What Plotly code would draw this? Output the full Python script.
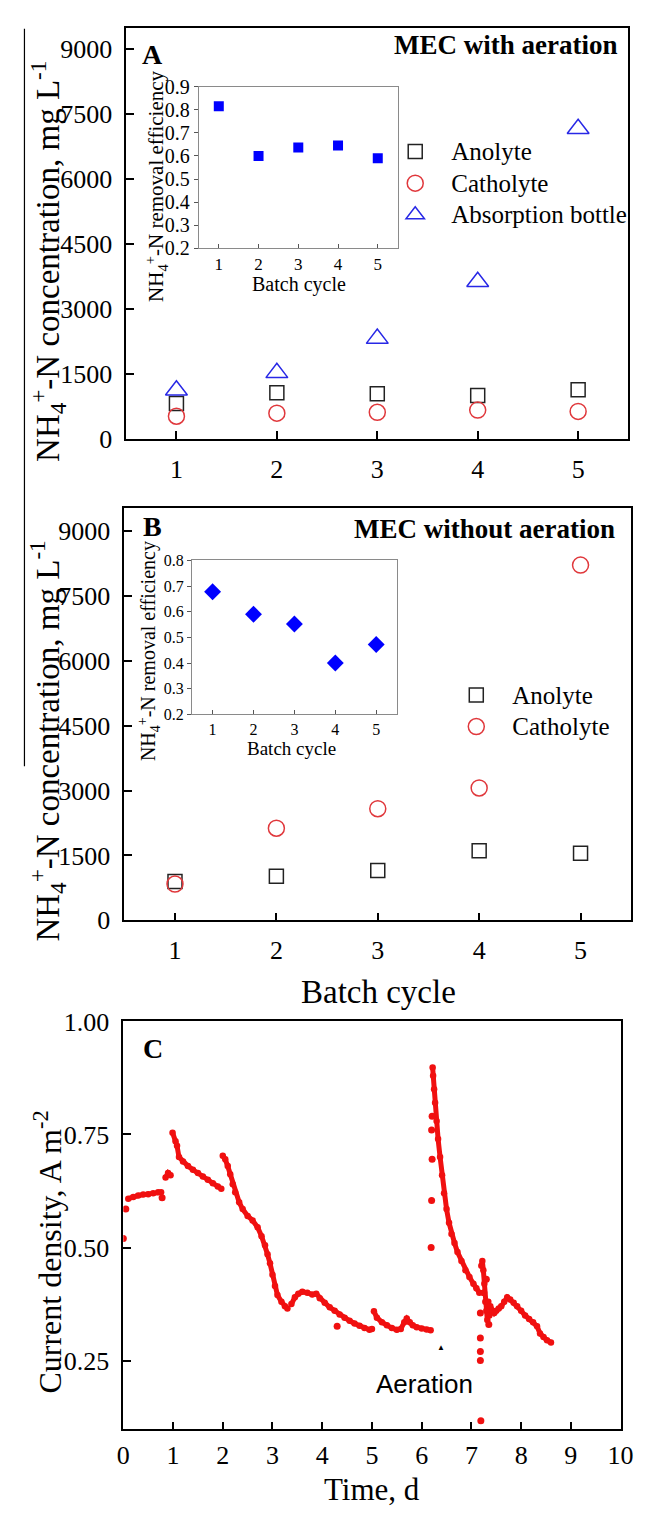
import plotly.graph_objects as go

W, H = 652, 1519
def px(x): return x / W
def py(y): return 1 - y / H

# ---------------- data ----------------
cycles = [1, 2, 3, 4, 5]
# Panel A: MEC with aeration (mg/L)
a_anolyte = [810, 1060, 1040, 1000, 1130]
a_catholyte = [520, 590, 610, 660, 630]
a_absorption = [1120, 1520, 2310, 3620, 7150]
a_eff = [0.815, 0.60, 0.637, 0.645, 0.59]
# Panel B: MEC without aeration (mg/L)
b_anolyte = [900, 1020, 1150, 1610, 1550]
b_catholyte = [840, 2130, 2580, 3060, 8210]
b_eff = [0.678, 0.59, 0.552, 0.40, 0.472]

# Panel C: current density (A m-2) vs time (d), read as continuous runs of dots
c_t1 = [0.10, 0.20, 0.30, 0.40, 0.50, 0.60, 0.70, 0.76]
c_v1 = [0.608, 0.612, 0.615, 0.617, 0.618, 0.620, 0.622, 0.622]
c_t2 = [0.85, 0.90, 0.95]
c_v2 = [0.655, 0.665, 0.660]
c_t3 = [0.99, 1.05, 1.08, 1.12, 1.20, 1.30, 1.40, 1.50, 1.60, 1.70, 1.80, 1.90, 1.97]
c_v3 = [0.754, 0.735, 0.725, 0.700, 0.690, 0.680, 0.672, 0.665, 0.657, 0.650, 0.642, 0.635, 0.630]
c_t4 = [2.00, 2.05, 2.10, 2.15, 2.20, 2.25, 2.33, 2.40, 2.50, 2.60, 2.70, 2.78, 2.85, 2.90,
        2.95, 3.00, 3.05, 3.10, 3.18, 3.25, 3.30]
c_v4 = [0.703, 0.695, 0.680, 0.662, 0.640, 0.622, 0.600, 0.585, 0.570, 0.560, 0.545, 0.525,
        0.505, 0.485, 0.465, 0.440, 0.415, 0.395, 0.380, 0.370, 0.365]
c_t5 = [3.38, 3.45, 3.52, 3.60, 3.70, 3.80, 3.88, 3.95, 4.05, 4.15, 4.25, 4.35, 4.45, 4.55,
        4.65, 4.75, 4.85, 4.95, 5.00]
c_v5 = [0.375, 0.390, 0.398, 0.402, 0.400, 0.396, 0.398, 0.388, 0.378, 0.368, 0.360, 0.352,
        0.345, 0.338, 0.332, 0.327, 0.322, 0.318, 0.320]
c_t6 = [5.04, 5.10, 5.20, 5.30, 5.40, 5.50, 5.58, 5.65, 5.70, 5.76, 5.82, 5.90, 6.00, 6.10, 6.18]
c_v6 = [0.359, 0.345, 0.335, 0.328, 0.322, 0.318, 0.320, 0.335, 0.343, 0.335, 0.328, 0.324,
        0.321, 0.319, 0.317]
c_t7 = [6.22, 6.23, 6.25, 6.27, 6.30, 6.33, 6.37, 6.41, 6.45, 6.50, 6.55, 6.60, 6.66, 6.72,
        6.80, 6.88, 6.96, 7.04, 7.10, 7.16]
c_v7 = [0.898, 0.880, 0.850, 0.820, 0.780, 0.740, 0.700, 0.660, 0.620, 0.585, 0.555, 0.530,
        0.510, 0.490, 0.470, 0.450, 0.435, 0.420, 0.410, 0.400]
c_t8 = [7.20, 7.22, 7.24, 7.26, 7.28, 7.30, 7.32, 7.34, 7.36, 7.38, 7.42, 7.46, 7.50, 7.55,
        7.60, 7.66, 7.72, 7.78, 7.85, 7.92, 8.00, 8.08, 8.16, 8.24, 8.32, 8.38, 8.45, 8.52, 8.60]
c_v8 = [0.460, 0.470, 0.450, 0.420, 0.380, 0.360, 0.340, 0.380, 0.350, 0.370, 0.360, 0.355,
        0.360, 0.365, 0.370, 0.380, 0.390, 0.385, 0.378, 0.370, 0.360, 0.350, 0.342, 0.335,
        0.326, 0.310, 0.302, 0.295, 0.290]
c_t_iso = [0.00, 0.05, 0.78, 4.30, 6.19, 6.20, 6.21, 6.20, 6.21, 7.18, 7.18, 7.18, 7.18, 7.19,
           7.25, 7.30, 7.35]
c_v_iso = [0.520, 0.585, 0.610, 0.326, 0.500, 0.604, 0.695, 0.760, 0.790, 0.355, 0.300, 0.270,
           0.250, 0.117, 0.400, 0.430, 0.330]

c_runs = [(c_t1, c_v1), (c_t2, c_v2), (c_t3, c_v3), (c_t4, c_v4), (c_t5, c_v5),
          (c_t6, c_v6), (c_t7, c_v7), (c_t8, c_v8)]

# ---------------- styles ----------------
SERIF = "Liberation Serif"
SANS = "Liberation Sans"
BLACK_SQ = "#222222"
RED = "#E0383C"
BLUE = "#2828E6"

def lg(name):
    return f'<span style="font-size:25px">{name}</span>'

fig = go.Figure()

# Panel A
fig.add_trace(go.Scatter(x=cycles, y=a_anolyte, mode="markers", name=lg("Anolyte"),
                         marker=dict(symbol="square-open", size=14, color=BLACK_SQ, line=dict(width=1.5)),
                         xaxis="x", yaxis="y", legend="legend"))
fig.add_trace(go.Scatter(x=cycles, y=a_catholyte, mode="markers", name=lg("Catholyte"),
                         marker=dict(symbol="circle-open", size=16, color=RED, line=dict(width=1.5)),
                         xaxis="x", yaxis="y", legend="legend"))
fig.add_trace(go.Scatter(x=cycles, y=a_absorption, mode="markers", name=lg("Absorption bottle"),
                         marker=dict(symbol="triangle-up-open", size=19, color=BLUE, line=dict(width=1.5)),
                         xaxis="x", yaxis="y", legend="legend"))
# Inset A
fig.add_trace(go.Scatter(x=cycles, y=a_eff, mode="markers", showlegend=False,
                         marker=dict(symbol="square", size=10, color="#0000FF"),
                         xaxis="x2", yaxis="y2"))
# Panel B
fig.add_trace(go.Scatter(x=cycles, y=b_anolyte, mode="markers", name=lg("Anolyte"),
                         marker=dict(symbol="square-open", size=14, color=BLACK_SQ, line=dict(width=1.5)),
                         xaxis="x3", yaxis="y3", legend="legend2"))
fig.add_trace(go.Scatter(x=cycles, y=b_catholyte, mode="markers", name=lg("Catholyte"),
                         marker=dict(symbol="circle-open", size=16, color=RED, line=dict(width=1.5)),
                         xaxis="x3", yaxis="y3", legend="legend2"))
# Inset B
fig.add_trace(go.Scatter(x=cycles, y=b_eff, mode="markers", showlegend=False,
                         marker=dict(symbol="diamond", size=13, color="#0000FF"),
                         xaxis="x4", yaxis="y4"))
# Panel C: dense runs drawn as thick dotted lines + dots
line_t, line_v = [], []
for t, v in c_runs:
    line_t += t + [None]
    line_v += v + [None]
fig.add_trace(go.Scatter(x=line_t, y=line_v, mode="lines+markers", showlegend=False,
                         line=dict(color="#F01010", width=5),
                         marker=dict(symbol="circle", size=6.5, color="#F01010"),
                         connectgaps=False, xaxis="x5", yaxis="y5"))
fig.add_trace(go.Scatter(x=c_t_iso, y=c_v_iso, mode="markers", showlegend=False,
                         marker=dict(symbol="circle", size=7, color="#F01010"),
                         xaxis="x5", yaxis="y5"))

main_ax = dict(showline=True, linecolor="black", linewidth=1.6, mirror=True,
               ticks="inside", ticklen=8, tickwidth=1.5, tickcolor="black",
               showgrid=False, zeroline=False,
               tickfont=dict(family=SERIF, size=26, color="black"))
inset_ax = dict(showline=True, linecolor="#8a8a8a", linewidth=1.2, mirror=True,
                ticks="outside", ticklen=4, tickwidth=1, tickcolor="#555555",
                showgrid=False, zeroline=False,
                tickfont=dict(family=SERIF, size=20, color="black"))

fig.update_layout(
    width=W, height=H,
    margin=dict(l=0, r=0, t=0, b=0),
    paper_bgcolor="white", plot_bgcolor="rgba(0,0,0,0)",
    font=dict(family=SERIF, color="black"),
    # Panel A
    xaxis=dict(main_ax, domain=[px(123), px(641)], range=[0.5, 5.5], tickvals=cycles,
               anchor="y", ticklabelstandoff=6),
    yaxis=dict(main_ax, domain=[py(433), py(14)], range=[0, 9480],
               tickvals=[0, 1500, 3000, 4500, 6000, 7500, 9000], anchor="x",
               ticklabelstandoff=7),
    # Inset A
    xaxis2=dict(inset_ax, domain=[px(198), px(403)], range=[0.5, 5.5], tickvals=cycles,
                anchor="y2", ticks="inside",
                tickfont=dict(family=SERIF, size=17, color="black")),
    yaxis2=dict(inset_ax, domain=[py(239), py(74)], range=[0.2, 0.9],
                tickvals=[0.2, 0.3, 0.4, 0.5, 0.6, 0.7, 0.8, 0.9], anchor="x2"),
    # Panel B
    xaxis3=dict(main_ax, domain=[px(121), px(644)], range=[0.5, 5.5], tickvals=cycles,
                anchor="y3", ticklabelstandoff=6),
    yaxis3=dict(main_ax, domain=[py(924), py(504)], range=[0, 9520],
                tickvals=[0, 1500, 3000, 4500, 6000, 7500, 9000], anchor="x3",
                ticklabelstandoff=7),
    # Inset B
    xaxis4=dict(inset_ax, domain=[px(191), px(402)], range=[0.5, 5.5], tickvals=cycles,
                anchor="y4", ticks="inside",
                tickfont=dict(family=SERIF, size=16, color="black")),
    yaxis4=dict(inset_ax, domain=[py(714), py(557)], range=[0.2, 0.8],
                tickvals=[0.2, 0.3, 0.4, 0.5, 0.6, 0.7, 0.8], anchor="x4",
                tickfont=dict(family=SERIF, size=16, color="black")),
    # Panel C
    xaxis5=dict(main_ax, domain=[px(120), px(633)], range=[0, 10],
                tickvals=[0, 1, 2, 3, 4, 5, 6, 7, 8, 9, 10], anchor="y5", ticklabelstandoff=2),
    yaxis5=dict(main_ax, domain=[py(1443), py(1027)], range=[0.0978, 1.0],
                tickvals=[0.25, 0.50, 0.75, 1.00], tickformat=".2f", anchor="x5",
                ticklabelstandoff=7),
    legend=dict(x=px(384), y=py(119), xanchor="left", yanchor="top",
                bgcolor="rgba(0,0,0,0)", font=dict(family=SERIF, size=22, color="black"),
                itemwidth=62, tracegroupgap=0),
    legend2=dict(x=px(447), y=py(673), xanchor="left", yanchor="top",
                 bgcolor="rgba(0,0,0,0)", font=dict(family=SERIF, size=22, color="black"),
                 itemwidth=62, tracegroupgap=0),
)

ann = []
def note(x, y, text, size, bold=False, angle=0, family=SERIF, xanchor="center", xref="paper", yref="paper"):
    t = f"<b>{text}</b>" if bold else text
    ann.append(dict(x=x, y=y, xref=xref, yref=yref, text=t, showarrow=False,
                    textangle=angle, xanchor=xanchor, yanchor="middle",
                    font=dict(family=family, size=size, color="black")))

# panel letters and headings
note(px(150), py(41), "A", 28, bold=True)
note(px(150), py(522), "B", 28, bold=True)
note(px(151), py(1055), "C", 28, bold=True)
note(px(631), py(32), "MEC with aeration", 27, bold=True, xanchor="right")
note(px(629), py(525), "MEC without aeration", 27, bold=True, xanchor="right")
# main axis titles
ytitle = "NH<sub>4</sub><sup>+</sup>-N concentration, mg L<sup>-1</sup>"
note(px(42), py(252), ytitle, 33, angle=-90)
note(px(42), py(741), ytitle, 33, angle=-90)
note(px(383), py(997), "Batch cycle", 33)
note(px(42), py(1262), "Current density, A m<sup>-2</sup>", 32, angle=-90)
note(px(377), py(1504), "Time, d", 31)
# inset titles
itile = "NH<sub>4</sub><sup>+</sup>-N removal efficiency"
note(px(301), py(276), "Batch cycle", 20)
note(px(154), py(175), itile, 21, angle=-90)
note(px(293), py(749), "Batch cycle", 19)
note(px(146), py(650), itile, 20, angle=-90)
# aeration marker
note(6.06, 0.198, "Aeration", 26, family=SANS, xref="x5", yref="y5")
note(6.38, 0.279, "▲", 8, xref="x5", yref="y5")
fig.update_layout(annotations=ann)

# thin vertical rule at left edge (from original figure layout)
fig.add_shape(type="line", xref="paper", yref="paper", x0=px(18), x1=px(18),
              y0=py(15), y1=py(767), line=dict(color="black", width=1.2))

fig.write_html("out.html")
